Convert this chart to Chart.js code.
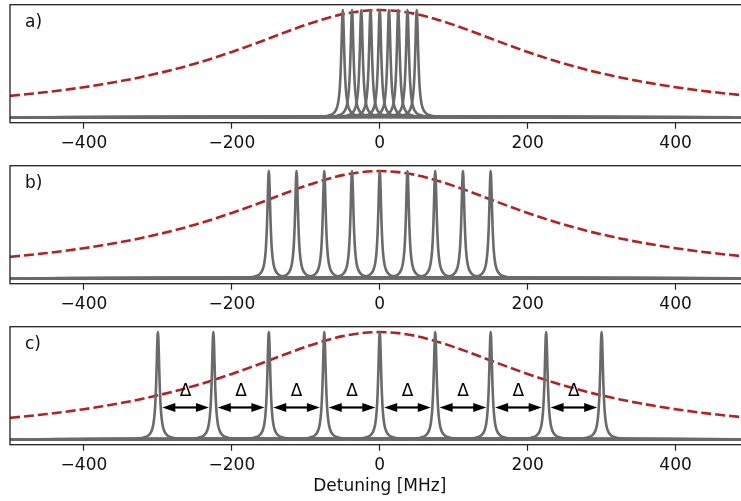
<!DOCTYPE html>
<html><head><meta charset="utf-8">
<script src="https://cdn.jsdelivr.net/npm/chart.js@4"></script>
<style>
html,body{margin:0;padding:0;background:#fff;overflow:hidden;width:741px;height:501px;position:relative;}
canvas{position:absolute;left:0;}
</style></head><body>
<canvas id="pa" width="760" height="161" style="top:0px"></canvas>
<canvas id="pb" width="760" height="161" style="top:161px"></canvas>
<canvas id="pc" width="760" height="179" style="top:322px"></canvas>
<script>
// ---- data ----
const xTicks = [-400, -200, 0, 200, 400];
const envelopeX = [-500,-475,-450,-425,-400,-375,-350,-325,-300,-275,-250,-225,-200,-175,-150,-125,-100,-75,-50,-25,0,
                   25,50,75,100,125,150,175,200,225,250,275,300,325,350,375,400,425,450,475,500];
const envelopeY = [0.200,0.217,0.236,0.257,0.281,0.308,0.338,0.372,0.410,0.452,0.500,0.552,0.610,0.671,0.735,0.800,0.862,0.917,0.962,0.990,1.000,
                   0.990,0.962,0.917,0.862,0.800,0.735,0.671,0.610,0.552,0.500,0.452,0.410,0.372,0.338,0.308,0.281,0.257,0.236,0.217,0.200];
const peaksA = [-50, -37.5, -25, -12.5, 0, 12.5, 25, 37.5, 50];
const peaksB = [-150, -112.5, -75, -37.5, 0, 37.5, 75, 112.5, 150];
const peaksC = [-300, -225, -150, -75, 0, 75, 150, 225, 300];
// line profile of one comb tooth (offset in MHz, relative height)
const peakOffsets = [-40,-30,-25,-20,-17,-14,-12,-10,-9,-8,-7,-6,-5,-4,-3,-2.5,-2,-1.5,-1,-0.5,0,
                     0.5,1,1.5,2,2.5,3,4,5,6,7,8,9,10,12,14,17,20,25,30,40];
const peakHeights = [0.004,0.007,0.010,0.015,0.021,0.031,0.042,0.059,0.072,0.089,0.113,0.148,0.20,0.28,0.41,0.50,0.61,0.735,0.862,0.96,1.00,
                     0.96,0.862,0.735,0.61,0.50,0.41,0.28,0.20,0.148,0.113,0.089,0.072,0.059,0.042,0.031,0.021,0.015,0.010,0.007,0.004];
const panelLabels = ['a)', 'b)', 'c)'];
const spacingLabel = '\u0394';
const xTitle = 'Detuning [MHz]';
const xRange = [-500, 500];
const yRange = [-0.05, 1.05];

// ---- styling ----
const FONT = 'DejaVu Sans';
const FS = 17;
const GREY = '#6a6a6a';
const RED = '#b22222';
const PAD_TOP = 4.7;
const AREA_H = 118;

function peakDataset(c) {
  const pts = [{x: xRange[0], y: 0}];
  for (let i = 0; i < peakOffsets.length; i++) pts.push({x: c + peakOffsets[i], y: peakHeights[i]});
  pts.push({x: xRange[1], y: 0});
  return {data: pts, showLine: true, borderColor: GREY, borderWidth: 2.6, pointRadius: 0,
    cubicInterpolationMode: 'monotone', borderJoinStyle: 'round', order: 0};
}

function envelopeDataset() {
  return {data: envelopeX.map((x, i) => ({x, y: envelopeY[i]})), showLine: true, borderColor: RED, borderWidth: 2.6,
    borderDash: [10, 4], pointRadius: 0, cubicInterpolationMode: 'monotone', order: 1};
}

const framePlugin = {
  id: 'frame',
  afterDraw(chart, args, opts) {
    const {ctx, chartArea: a} = chart;
    ctx.save();
    ctx.strokeStyle = '#222';
    ctx.lineWidth = 1.3;
    ctx.strokeRect(a.left, a.top, a.right - a.left, a.bottom - a.top);
    ctx.fillStyle = '#111';
    ctx.font = FS + 'px "' + FONT + '"';
    ctx.textAlign = 'left';
    ctx.textBaseline = 'alphabetic';
    ctx.fillText(opts.label, a.left + 15, a.top + 21.8);
    if (opts.title) {
      ctx.textAlign = 'center';
      ctx.fillText(opts.title, (chart.scales.x.getPixelForValue(0)), a.bottom + 46.5);
    }
    ctx.restore();
  }
};

const arrowPlugin = {
  id: 'arrows',
  afterDatasetsDraw(chart, args, opts) {
    if (!opts.centers) return;
    const {ctx, scales: {x, y}} = chart;
    const c = opts.centers;
    const yA = y.getPixelForValue(0.297);
    const yT = y.getPixelForValue(0.405);
    const gap = 6, hl = 13, hw = 4.5;
    ctx.save();
    ctx.strokeStyle = '#000';
    ctx.fillStyle = '#000';
    ctx.lineWidth = 2.2;
    for (let i = 0; i < c.length - 1; i++) {
      const x1 = x.getPixelForValue(c[i] + gap);
      const x2 = x.getPixelForValue(c[i + 1] - gap);
      ctx.beginPath();
      ctx.moveTo(x1 + hl - 2, yA); ctx.lineTo(x2 - hl + 2, yA); ctx.stroke();
      ctx.beginPath();
      ctx.moveTo(x1, yA); ctx.lineTo(x1 + hl, yA - hw); ctx.lineTo(x1 + hl, yA + hw); ctx.closePath(); ctx.fill();
      ctx.beginPath();
      ctx.moveTo(x2, yA); ctx.lineTo(x2 - hl, yA - hw); ctx.lineTo(x2 - hl, yA + hw); ctx.closePath(); ctx.fill();
      ctx.font = FS + 'px "' + FONT + '"';
      ctx.textAlign = 'center';
      ctx.textBaseline = 'alphabetic';
      ctx.fillText(opts.label, (x1 + x2) / 2, yT);
    }
    ctx.restore();
  }
};

function makePanel(id, peaks, label, withArrows, withTitle) {
  const cv = document.getElementById(id);
  const H = cv.height;
  const datasets = peaks.map(peakDataset);
  datasets.push(envelopeDataset());
  new Chart(cv, {
    type: 'scatter',
    data: {datasets},
    options: {
      responsive: false, animation: false, devicePixelRatio: 1,
      layout: {padding: {left: 10, right: 10.5, top: PAD_TOP, bottom: 0}},
      plugins: {legend: {display: false}, tooltip: {enabled: false},
        frame: {label, title: withTitle ? xTitle : null},
        arrows: withArrows ? {centers: peaks, label: spacingLabel} : {}},
      scales: {
        x: {type: 'linear', min: xRange[0], max: xRange[1],
          afterBuildTicks: s => { s.ticks = xTicks.map(v => ({value: v})); },
          afterFit: s => { s.height = H - PAD_TOP - AREA_H; },
          grid: {display: true, drawOnChartArea: false, drawTicks: true, tickLength: 6, tickColor: '#222', tickWidth: 1.2},
          border: {display: false},
          ticks: {padding: 5, color: '#111', font: {family: FONT, size: FS}, maxRotation: 0,
            callback: v => (v < 0 ? '\u2212' + Math.abs(v) : String(v))}},
        y: {display: false, min: yRange[0], max: yRange[1]}
      }
    },
    plugins: [framePlugin, arrowPlugin]
  });
}

makePanel('pa', peaksA, panelLabels[0], false, false);
makePanel('pb', peaksB, panelLabels[1], false, false);
makePanel('pc', peaksC, panelLabels[2], true, true);
</script>
</body></html>
